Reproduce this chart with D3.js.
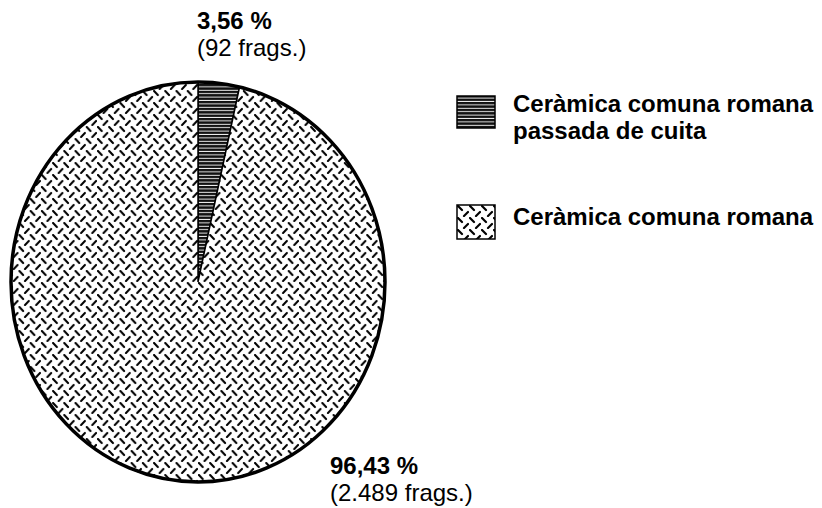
<!DOCTYPE html>
<html>
<head>
<meta charset="utf-8">
<script src="https://cdn.jsdelivr.net/npm/d3@7"></script>
<style>
  body { margin: 0; background: #fff; }
  text { font-family: "Liberation Sans", Arial, sans-serif; fill: #000; }
</style>
</head>
<body>
<div id="chart"></div>
<script>
// Data
const categories = ['Ceràmica comuna romana passada de cuita', 'Ceràmica comuna romana'];
const frags = [92, 2489];
const percentLabels = ['3,56 %', '96,43 %'];
const fragLabels = ['(92 frags.)', '(2.489 frags.)'];
const legendLines = [['Ceràmica comuna romana', 'passada de cuita'], ['Ceràmica comuna romana']];
const patternIds = ['hatch', 'diamond'];

const width = 822, height = 508;
const cx = 198, cy = 282;
const radius = 200;      // vertical radius
const xSquash = 187 / 200; // the scanned pie is slightly narrower than tall

const svg = d3.select('#chart').append('svg')
    .attr('width', width)
    .attr('height', height);

const defs = svg.append('defs');

// Horizontal hatch: dark with thin white lines
const hatch = defs.append('pattern')
    .attr('id', 'hatch')
    .attr('patternUnits', 'userSpaceOnUse')
    .attr('width', 8)
    .attr('height', 3.4);
hatch.append('rect').attr('width', 8).attr('height', 3.4).attr('fill', '#111');
hatch.append('rect').attr('y', 1.6).attr('width', 8).attr('height', 0.9).attr('fill', '#fff');

// Diamond-plate pattern of short dashes
const tile = 12;
const diamond = defs.append('pattern')
    .attr('id', 'diamond')
    .attr('patternUnits', 'userSpaceOnUse')
    .attr('width', tile)
    .attr('height', tile);
diamond.append('rect').attr('width', tile).attr('height', tile).attr('fill', '#fff');
diamond.append('line')
    .attr('x1', 1).attr('y1', 1).attr('x2', 5).attr('y2', 5)
    .attr('stroke', '#000').attr('stroke-width', 2.2).attr('stroke-linecap', 'round');
diamond.append('line')
    .attr('x1', 7).attr('y1', 11).attr('x2', 11).attr('y2', 7)
    .attr('stroke', '#000').attr('stroke-width', 2.2).attr('stroke-linecap', 'round');

// Pie
const pie = d3.pie().sort(null).value(d => d)
    .startAngle(0).endAngle(2 * Math.PI);
const arcs = pie(frags);

const arc = d3.arc().innerRadius(0).outerRadius(radius);

const g = svg.append('g')
    .attr('transform', `translate(${cx},${cy}) scale(${xSquash},1)`);

g.selectAll('path.slice')
    .data(arcs)
    .enter()
    .append('path')
    .attr('class', 'slice')
    .attr('d', arc)
    .attr('fill', (d, i) => `url(#${patternIds[i]})`)
    .attr('stroke', '#000')
    .attr('stroke-width', 1.5)
    .attr('vector-effect', 'non-scaling-stroke');

// Heavier outer rim
g.append('ellipse')
    .attr('rx', radius).attr('ry', radius)
    .attr('fill', 'none')
    .attr('stroke', '#000')
    .attr('stroke-width', 3.5)
    .attr('vector-effect', 'non-scaling-stroke');

// Slice labels
const labelPos = [
    { x: 197, y1: 29, y2: 56 },
    { x: 330, y1: 474, y2: 501 }
];
labelPos.forEach((p, i) => {
    svg.append('text')
        .attr('x', p.x).attr('y', p.y1)
        .style('font-size', '24px')
        .style('font-weight', 'bold')
        .text(percentLabels[i]);
    svg.append('text')
        .attr('x', p.x).attr('y', p.y2)
        .style('font-size', '24px')
        .text(fragLabels[i]);
});

// Legend
const legendY = [96, 205];
const legend = svg.selectAll('.legend')
    .data(categories)
    .enter()
    .append('g')
    .attr('class', 'legend')
    .attr('transform', (d, i) => `translate(457,${legendY[i]})`);

legend.append('rect')
    .attr('width', 38)
    .attr('height', (d, i) => i === 0 ? 32 : 34)
    .attr('fill', (d, i) => `url(#${patternIds[i]})`)
    .attr('stroke', '#000')
    .attr('stroke-width', 1.5);

legend.each(function (d, i) {
    const t = d3.select(this).append('text')
        .attr('x', 56)
        .attr('y', i === 0 ? 16 : 20)
        .style('font-size', '24px')
        .style('font-weight', 'bold');
    legendLines[i].forEach((line, j) => {
        t.append('tspan')
            .attr('x', 56)
            .attr('dy', j === 0 ? 0 : 27)
            .text(line);
    });
});
</script>
</body>
</html>
